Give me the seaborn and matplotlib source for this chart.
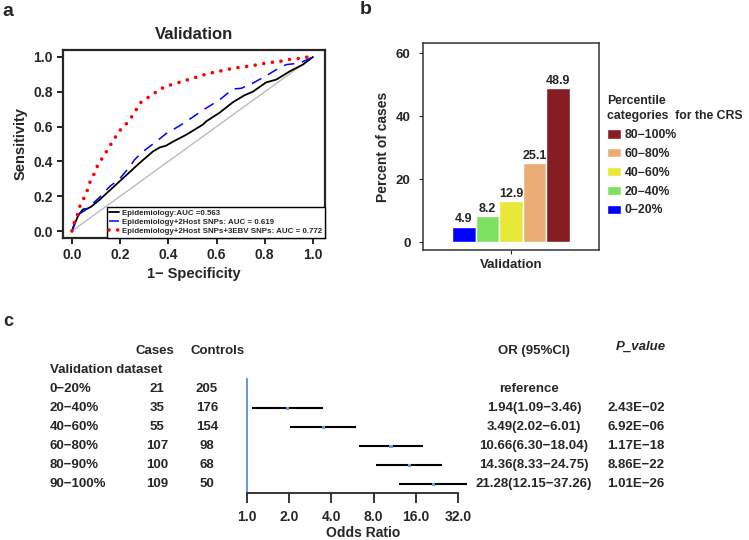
import numpy as np
import pandas as pd
import matplotlib
matplotlib.use('Agg')
import matplotlib.pyplot as plt
import seaborn as sns

# ---- panel a: ROC curves ----
epi_fpr = [0, 0.01, 0.024, 0.032, 0.046, 0.062, 0.08, 0.115, 0.17, 0.225, 0.28, 0.336, 0.364, 0.39,
           0.42, 0.474, 0.544, 0.557, 0.613, 0.668, 0.716, 0.75, 0.806, 0.848, 0.903, 0.958, 1.0]
epi_tpr = [0, 0.035, 0.083, 0.10, 0.125, 0.127, 0.14, 0.18, 0.25, 0.32, 0.39, 0.457, 0.48, 0.49,
           0.514, 0.553, 0.612, 0.63, 0.68, 0.74, 0.78, 0.80, 0.854, 0.87, 0.917, 0.956, 1.0]
host_fpr = [0, 0.015, 0.032, 0.053, 0.08, 0.115, 0.156, 0.198, 0.24, 0.26, 0.295, 0.35, 0.39, 0.447,
            0.502, 0.557, 0.613, 0.668, 0.703, 0.751, 0.806, 0.848, 0.889, 0.945, 1.0]
host_tpr = [0, 0.067, 0.10, 0.117, 0.15, 0.194, 0.255, 0.30, 0.37, 0.41, 0.457, 0.514, 0.559, 0.605,
            0.655, 0.706, 0.754, 0.816, 0.82, 0.85, 0.892, 0.927, 0.956, 0.965, 1.0]
ebv_fpr = [0, 0.01, 0.022, 0.032, 0.05, 0.066, 0.077, 0.097, 0.11, 0.133, 0.152, 0.173, 0.192, 0.217,
           0.239, 0.261, 0.278, 0.306, 0.333, 0.358, 0.389, 0.422, 0.46, 0.497, 0.53, 0.566, 0.602,
           0.64, 0.679, 0.718, 0.757, 0.795, 0.834, 0.873, 0.907, 0.945, 0.98]
ebv_tpr = [0, 0.05, 0.09, 0.14, 0.19, 0.24, 0.29, 0.34, 0.39, 0.43, 0.48, 0.52, 0.57, 0.60,
           0.64, 0.68, 0.73, 0.76, 0.78, 0.81, 0.83, 0.845, 0.86, 0.876, 0.89, 0.905, 0.915,
           0.927, 0.937, 0.944, 0.952, 0.962, 0.97, 0.977, 0.987, 0.992, 1.0]
roc_labels = ['Epidemiology:AUC =0.563',
              'Epidemiology+2Host SNPs: AUC = 0.619',
              'Epidemiology+2Host SNPs+3EBV SNPs: AUC = 0.772']

# ---- panel b: percent of cases ----
crs_cats = ['0−20%', '20−40%', '40−60%', '60−80%', '80−100%']
crs_pct = [4.9, 8.2, 12.9, 25.1, 48.9]
crs_colors = ['#0000FF', '#7EE060', '#E8E838', '#EAAD75', '#861D22']

# ---- panel c: forest plot ----
groups = ['0−20%', '20−40%', '40−60%', '60−80%', '80−90%', '90−100%']
cases = [21, 35, 55, 107, 100, 109]
controls = [205, 176, 154, 98, 68, 50]
or_val = [np.nan, 1.94, 3.49, 10.66, 14.36, 21.28]
or_lo = [np.nan, 1.09, 2.02, 6.30, 8.33, 12.15]
or_hi = [np.nan, 3.46, 6.01, 18.04, 24.75, 37.26]
p_values = ['', '2.43E−02', '6.92E−06', '1.17E−18', '8.86E−22', '1.01E−26']

sns.set_style('ticks')
plt.rcParams['font.family'] = ['Liberation Sans', 'DejaVu Sans']
plt.rcParams['font.weight'] = 'bold'
plt.rcParams['axes.labelweight'] = 'bold'
plt.rcParams['axes.titleweight'] = 'bold'

W, H = 749, 540
fig = plt.figure(figsize=(W / 100, H / 100), dpi=100)


def rect(x0, y0, x1, y1):
    return [x0 / W, 1 - y1 / H, (x1 - x0) / W, (y1 - y0) / H]


def ftext(x, y, s, **kw):
    fig.text(x / W, 1 - y / H, s, va='center', **kw)


# ================= a =================
ax = fig.add_axes(rect(63, 50, 325, 238))
ax.plot([0, 1], [0, 1], color='#BBBBBB', lw=1)
sns.lineplot(x=epi_fpr, y=epi_tpr, ax=ax, color='black', lw=1.3, sort=False, label=roc_labels[0])
sns.lineplot(x=host_fpr, y=host_tpr, ax=ax, color='blue', lw=1.1, sort=False,
             linestyle=(0, (7, 5)), label=roc_labels[1])
sns.lineplot(x=ebv_fpr, y=ebv_tpr, ax=ax, color='red', lw=2.6, sort=False,
             linestyle=(0, (0.01, 2.4)), dash_capstyle='round', label=roc_labels[2])
ax.set_xlim(-0.037, 1.05)
ax.set_ylim(-0.04, 1.04)
ticks = [0, 0.2, 0.4, 0.6, 0.8, 1.0]
ax.set_xticks(ticks, [f'{t:.1f}' for t in ticks])
ax.set_yticks(ticks, [f'{t:.1f}' for t in ticks])
ax.tick_params(labelsize=10, width=1.4, length=4)
for sp in ax.spines.values():
    sp.set_visible(True)
    sp.set_linewidth(1.6)
ax.set_title('Validation', fontsize=12, pad=8)
ax.set_xlabel('1− Specificity', fontsize=10.5, labelpad=3)
ax.set_ylabel('Sensitivity', fontsize=10.5, labelpad=4)
leg = ax.legend(loc='lower right', borderaxespad=0, fontsize=5.7, frameon=True, fancybox=False,
                handlelength=1.2, handletextpad=0.4, labelspacing=0.2, borderpad=0.35)
leg.get_frame().set_edgecolor('black')
leg.get_frame().set_linewidth(1)
leg.get_frame().set_alpha(1)

# ================= b =================
bx = fig.add_axes(rect(423, 43, 599, 250))
bar_df = pd.DataFrame({'set': 'Validation', 'cat': crs_cats, 'pct': crs_pct})
sns.barplot(data=bar_df, x='set', y='pct', hue='cat', palette=crs_colors, saturation=1,
            width=0.8, ax=bx)
for cont in bx.containers:
    bx.bar_label(cont, fmt='%.1f', fontsize=9, fontweight='bold', padding=1)
bx.set_xlim(-0.597, 0.597)
bx.set_ylim(-2.5, 63.2)
bx.set_yticks([0, 20, 40, 60])
bx.set_xlabel('')
bx.set_ylabel('Percent of cases', fontsize=10, labelpad=4)
bx.tick_params(labelsize=9.5, length=3)
bx.tick_params(axis='y', pad=6)
for sp in bx.spines.values():
    sp.set_visible(True)
    sp.set_linewidth(1.1)
    sp.set_color('#333333')
hh, ll = bx.get_legend_handles_labels()
bleg = bx.legend(hh[::-1], ll[::-1], title='Percentile\ncategories  for the CRS',
                 loc='upper left', bbox_to_anchor=(601 / W, 1 - 89 / H),
                 bbox_transform=fig.transFigure, frameon=False, fontsize=8.8,
                 title_fontsize=8.8, alignment='left', handlelength=1.1, borderpad=0,
                 handleheight=0.8, labelspacing=0.56, handletextpad=0.35)
bleg.get_title().set_fontweight('bold')
bleg.get_title().set_linespacing(1.35)

# ================= c =================
cx = fig.add_axes(rect(247, 379, 479, 493))
rows = np.arange(len(groups))
cx.hlines(rows, or_lo, or_hi, color='black', lw=1.5)
sns.scatterplot(x=or_val, y=rows, ax=cx, marker='s', s=5, color='#6A9BE8', edgecolor='none', zorder=3)
cx.set_xscale('log', base=2)
cx.set_xlim(1, 2 ** 5.5)
cx.set_ylim(5.47, -0.53)
or_ticks = [1, 2, 4, 8, 16, 32]
cx.set_xticks(or_ticks, [f'{t:.1f}' for t in or_ticks])
cx.minorticks_off()
cx.set_yticks([])
cx.spines['top'].set_visible(False)
cx.spines['right'].set_visible(False)
cx.spines['left'].set_color('#5B8EE0')
cx.spines['left'].set_linewidth(1.3)
cx.spines['bottom'].set_bounds(1, 32)
cx.spines['bottom'].set_linewidth(1.3)
cx.tick_params(axis='x', length=7, width=1.3, pad=5, labelsize=10)
cx.set_xlabel('Odds Ratio', fontsize=10, labelpad=1.5)

tkw = dict(fontsize=9.5, fontweight='bold')
ftext(155, 351, 'Cases', ha='center', **tkw)
ftext(218, 351, 'Controls', ha='center', **tkw)
ftext(50, 370, 'Validation dataset', ha='left', **tkw)
ftext(534, 351, 'OR (95%CI)', ha='center', **tkw)
ftext(641, 347, 'P_value', ha='center', style='italic', **tkw)
row_y = [389, 408, 427, 446, 465, 484]
for i, y in enumerate(row_y):
    ftext(50, y, groups[i], ha='left', **tkw)
    ftext(157, y, str(cases[i]), ha='center', **tkw)
    ftext(207, y, str(controls[i]), ha='center', **tkw)
    if np.isnan(or_val[i]):
        ftext(529, y, 'reference', ha='center', **tkw)
    else:
        ftext(534, y, f'{or_val[i]:.2f}({or_lo[i]:.2f}−{or_hi[i]:.2f})', ha='center', **tkw)
    ftext(636, y, p_values[i], ha='center', **tkw)

# panel letters
ftext(2, 12, 'a', fontsize=14, fontweight='bold')
ftext(360, 10, 'b', fontsize=14, fontweight='bold')
ftext(3, 321, 'c', fontsize=13, fontweight='bold')

fig.savefig('out.png', dpi=100)
